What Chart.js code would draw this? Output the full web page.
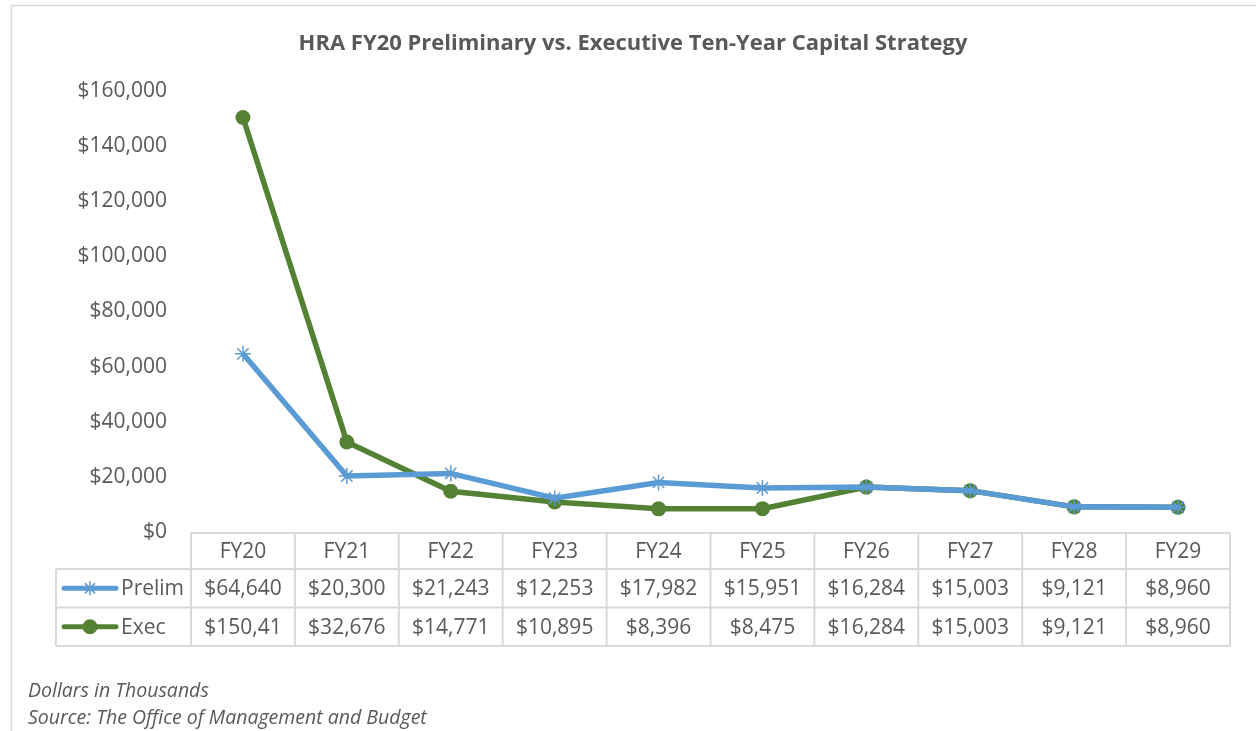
<!DOCTYPE html>
<html>
<head>
<meta charset="utf-8">
<script src="https://cdn.jsdelivr.net/npm/chart.js@4.4.1/dist/chart.umd.min.js"></script>
<style>
  html, body { margin: 0; padding: 0; background: #ffffff; }
  #wrap { width: 1256px; height: 731px; position: relative; }
</style>
</head>
<body>
<div id="wrap"><canvas id="c" width="1256" height="731"></canvas></div>
<script>
const chartTitle = 'HRA FY20 Preliminary vs. Executive Ten-Year Capital Strategy';
const categories = ['FY20', 'FY21', 'FY22', 'FY23', 'FY24', 'FY25', 'FY26', 'FY27', 'FY28', 'FY29'];
const prelimValues = [64640, 20300, 21243, 12253, 17982, 15951, 16284, 15003, 9121, 8960];
const execValues = [150410, 32676, 14771, 10895, 8396, 8475, 16284, 15003, 9121, 8960];
const seriesNames = ['Prelim', 'Exec'];
const yMin = 0, yMax = 160000, yStep = 20000;
const footnotes = ['Dollars in Thousands', 'Source: The Office of Management and Budget'];

const BLUE = '#5B9BD5';
const GREEN = '#548235';
const TEXT = '#595959';
const GRIDC = '#d9d9d9';
const FONT = '"Open Sans", sans-serif';

function fmt(v) { return '$' + v.toLocaleString('en-US'); }

function drawStar(ctx, x, y, r, color, lw) {
  ctx.save();
  ctx.strokeStyle = color; ctx.lineWidth = lw;
  ctx.beginPath();
  ctx.moveTo(x - r, y); ctx.lineTo(x + r, y);
  ctx.moveTo(x, y - r); ctx.lineTo(x, y + r);
  const d = r * 0.707;
  ctx.moveTo(x - d, y - d); ctx.lineTo(x + d, y + d);
  ctx.moveTo(x - d, y + d); ctx.lineTo(x + d, y - d);
  ctx.stroke();
  ctx.restore();
}

const decorPlugin = {
  id: 'decor',
  beforeDraw(chart) {
    const ctx = chart.ctx;
    ctx.save();
    ctx.strokeStyle = GRIDC; ctx.lineWidth = 1.5;
    ctx.strokeRect(11.5, 5.5, 1300, 800);
    ctx.fillStyle = TEXT;
    ctx.font = 'bold 22px ' + FONT;
    ctx.textAlign = 'center'; ctx.textBaseline = 'middle';
    ctx.fillText(chartTitle, 633, 44);
    ctx.restore();
  },
  afterDraw(chart) {
    const ctx = chart.ctx;
    const xs = chart.scales.x;
    const area = chart.chartArea;
    const colW = xs.getPixelForValue(1) - xs.getPixelForValue(0);
    const left = xs.getPixelForValue(0) - colW / 2;
    const right = xs.getPixelForValue(categories.length - 1) + colW / 2;
    const top = area.bottom + 1;
    const hH = 36, rH = 38.5;
    const legLeft = 56;
    const rowsY = [top, top + hH, top + hH + rH, top + hH + 2 * rH];

    ctx.save();
    ctx.strokeStyle = GRIDC; ctx.lineWidth = 2;
    ctx.beginPath();
    ctx.moveTo(left, rowsY[0]); ctx.lineTo(right, rowsY[0]);
    for (let i = 1; i < rowsY.length; i++) { ctx.moveTo(legLeft, rowsY[i]); ctx.lineTo(right, rowsY[i]); }
    ctx.moveTo(legLeft, rowsY[1]); ctx.lineTo(legLeft, rowsY[3]);
    for (let i = 0; i <= categories.length; i++) {
      const x = left + i * colW;
      ctx.moveTo(x, rowsY[0]); ctx.lineTo(x, rowsY[3]);
    }
    ctx.stroke();

    ctx.fillStyle = TEXT;
    ctx.font = '21px ' + FONT;
    ctx.textAlign = 'center'; ctx.textBaseline = 'middle';
    const series = [prelimValues, execValues];
    const maxTextW = colW * 0.8;
    categories.forEach((c, i) => {
      const cx = xs.getPixelForValue(i);
      ctx.fillText(c, cx, (rowsY[0] + rowsY[1]) / 2 + 1);
      series.forEach((vals, s) => {
        let t = fmt(vals[i]);
        while (ctx.measureText(t).width > maxTextW && t.length > 1) t = t.slice(0, -1);
        ctx.fillText(t, cx, (rowsY[s + 1] + rowsY[s + 2]) / 2 + 1);
      });
    });

    const colors = [BLUE, GREEN];
    seriesNames.forEach((n, s) => {
      const cy = (rowsY[s + 1] + rowsY[s + 2]) / 2;
      ctx.strokeStyle = colors[s]; ctx.lineWidth = 5; ctx.lineCap = 'round';
      ctx.beginPath(); ctx.moveTo(64, cy); ctx.lineTo(116, cy); ctx.stroke();
      if (s === 0) drawStar(ctx, 90, cy, 6.5, BLUE, 1.5);
      else { ctx.fillStyle = GREEN; ctx.beginPath(); ctx.arc(90, cy, 7.5, 0, Math.PI * 2); ctx.fill(); }
      ctx.fillStyle = TEXT; ctx.textAlign = 'left';
      ctx.fillText(n, 121, cy + 1);
    });

    ctx.font = 'italic 19.5px ' + FONT;
    ctx.textAlign = 'left';
    ctx.fillText(footnotes[0], 28, 691);
    ctx.fillText(footnotes[1], 28, 718);
    ctx.restore();
  }
};

new Chart(document.getElementById('c'), {
  type: 'line',
  data: {
    labels: categories,
    datasets: [
      {
        label: seriesNames[0], data: prelimValues,
        borderColor: BLUE, backgroundColor: BLUE, borderWidth: 5.5,
        pointStyle: 'star', pointRadius: 8, pointBorderWidth: 1.5,
        pointBorderColor: BLUE, pointHoverRadius: 8, tension: 0
      },
      {
        label: seriesNames[1], data: execValues,
        borderColor: GREEN, backgroundColor: GREEN, borderWidth: 5.5,
        pointStyle: 'circle', pointRadius: 7.5, pointBorderWidth: 0,
        pointBackgroundColor: GREEN, pointHoverRadius: 7.5, tension: 0
      }
    ]
  },
  options: {
    responsive: false,
    devicePixelRatio: 1,
    animation: false,
    layout: { padding: { left: 0, right: 26, top: 91, bottom: 199 } },
    plugins: { legend: { display: false }, title: { display: false }, tooltip: { enabled: false } },
    scales: {
      x: { type: 'category', display: false, offset: true },
      y: {
        min: yMin, max: yMax,
        grid: { display: false, drawTicks: false },
        border: { display: false },
        afterFit(scale) { scale.width = 191; },
        ticks: {
          stepSize: yStep, padding: 24, color: TEXT,
          font: { family: '"Open Sans", sans-serif', size: 21 },
          callback: v => fmt(v)
        }
      }
    }
  },
  plugins: [decorPlugin]
});
</script>
</body>
</html>
